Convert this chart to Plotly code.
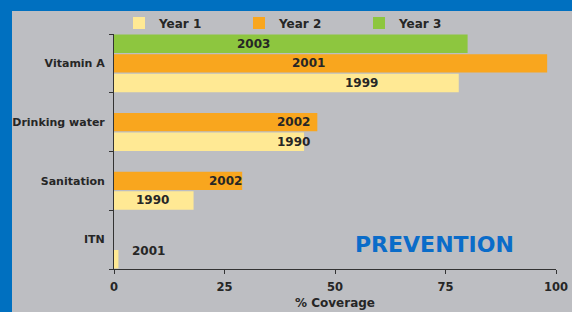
import plotly.graph_objects as go

categories = ["Vitamin A", "Drinking water", "Sanitation", "ITN"]
series_names = ["Year 1", "Year 2", "Year 3"]
year1 = [78, 43, 18, 1]
year2 = [98, 46, 29, None]
year3 = [80, None, None, None]
year1_labels = ["1999", "1990", "1990", "2001"]
year2_labels = ["2001", "2002", "2002", ""]
year3_labels = ["2003", "", "", ""]
x_ticks = [0, 25, 50, 75, 100]

# label anchor positions (x in data units) - layout, not data
label_x = {
    0: [55.9, 40.5, 8.8, 7.7],
    1: [43.9, 40.6, 25.3, None],
    2: [31.6, None, None, None],
}

colors = ["#FFE994", "#F9A61E", "#8DC63F"]
FONT = "DejaVu Sans"
TXT = "#262626"

fig = go.Figure()
for name, vals, col in zip(series_names, [year1, year2, year3], colors):
    fig.add_trace(go.Bar(
        name=name, y=categories, x=vals, orientation="h",
        marker=dict(color=col, line=dict(width=0)),
    ))

L, R, T, B = 114, 16, 34, 43
W, H = 572, 312
pw, ph = W - L - R, H - T - B

# background: blue frame top/left, gray panel
fig.add_shape(type="rect", xref="paper", yref="paper",
              x0=(12 - L) / pw, x1=1.3,
              y0=-0.5, y1=((H - B) - 11) / ph,
              fillcolor="#BDBEC2", line=dict(width=0), layer="below")

all_labels = [year1_labels, year2_labels, year3_labels]
slot = ph / len(categories) / 3
for si, labs in enumerate(all_labels):
    for ci, lab in enumerate(labs):
        if not lab:
            continue
        extra = 8 if categories[ci] == "ITN" else 0
        fig.add_annotation(x=label_x[si][ci], y=categories[ci], text=lab,
                           showarrow=False, xref="x", yref="y",
                           yshift=(si - 1) * slot + extra,
                           font=dict(family=FONT, size=12, color=TXT, weight="bold"))

fig.add_annotation(text="PREVENTION", xref="paper", yref="paper",
                   x=(434 - L) / pw, y=((H - B) - 244) / ph,
                   showarrow=False, xanchor="center", yanchor="middle",
                   font=dict(family=FONT, size=22, color="#0A6CC9", weight="bold"))

fig.update_layout(
    width=W, height=H,
    margin=dict(l=L, r=R, t=T, b=B, pad=0, autoexpand=False),
    paper_bgcolor="#0070C0",
    plot_bgcolor="rgba(0,0,0,0)",
    barmode="group", bargap=0, bargroupgap=0.06,
    font=dict(family=FONT, color=TXT, weight="bold"),
    showlegend=True,
    legend=dict(orientation="h", x=5 / pw, y=((H - B) - 23) / ph,
                xanchor="left", yanchor="middle", traceorder="normal",
                entrywidth=75, entrywidthmode="pixels",
                font=dict(family=FONT, size=12, color=TXT, weight="bold"),
                bgcolor="rgba(0,0,0,0)"),
    xaxis=dict(range=[0, 100], tickvals=x_ticks, ticktext=[str(v) for v in x_ticks],
               automargin=False,
               showgrid=False, zeroline=False, showline=True, linecolor="#333333",
               linewidth=1, ticks="outside", ticklen=4, tickcolor="#333333",
               ticklabelstandoff=3,
               tickfont=dict(family=FONT, size=11.5, color=TXT, weight="bold"),
               title=dict(text="% Coverage", standoff=5,
                          font=dict(family=FONT, size=12, color=TXT, weight="bold"))),
    yaxis=dict(categoryorder="array", categoryarray=categories[::-1],
               automargin=False,
               showgrid=False, zeroline=False, showline=True, linecolor="#333333",
               linewidth=1, ticks="outside", ticklen=4, tickcolor="#333333",
               tickson="boundaries", ticklabelstandoff=6,
               tickfont=dict(family=FONT, size=11, color=TXT, weight="bold")),
)

fig.write_html(
    "out.html",
    config={"displayModeBar": False},
    post_script="document.body.style.margin='0';document.body.style.overflow='hidden';",
)
